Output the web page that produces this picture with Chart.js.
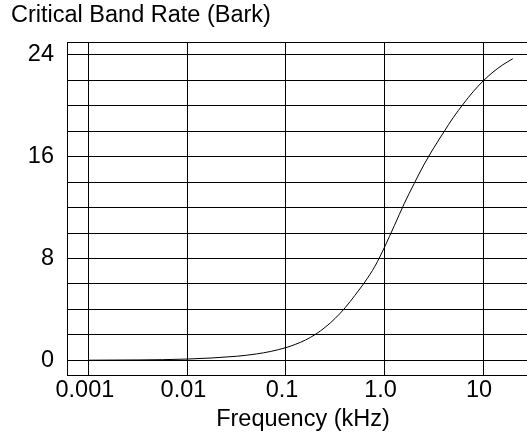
<!DOCTYPE html>
<html>
<head>
<meta charset="utf-8">
<script src="https://cdn.jsdelivr.net/npm/chart.js@4/dist/chart.umd.min.js"></script>
<style>
  html, body { margin: 0; padding: 0; background: #fff; }
  .frame { width: 527px; height: 440px; overflow: hidden; }
  .frame canvas { display: block; }
</style>
</head>
<body>
<div class="frame"><canvas id="barkChart" width="539" height="440"></canvas></div>
<script>
// values
const frequencyKHz = [0.001, 0.00316, 0.01, 0.0316, 0.05, 0.07, 0.1, 0.126, 0.158, 0.2, 0.25, 0.316, 0.4, 0.5, 0.63, 0.8, 1.0, 1.26, 1.58, 2.0, 2.5, 3.16, 4.0, 5.0, 6.3, 7.9, 10, 12.6, 15.8, 20];
const barkRate = [0.01, 0.03, 0.1, 0.32, 0.5, 0.7, 1.0, 1.27, 1.6, 2.05, 2.6, 3.3, 4.15, 5.1, 6.15, 7.4, 8.9, 10.6, 12.3, 13.9, 15.35, 16.7, 17.95, 19.1, 20.15, 21.1, 21.95, 22.65, 23.22, 23.7];

const xTickValues = [0.001, 0.01, 0.1, 1, 10];
const xTickLabels = ["0.001", "0.01", "0.1", "1.0", "10"];
const yGridValues = [0, 2, 4, 6, 8, 10, 12, 14, 16, 18, 20, 22, 24];
const yLabelValues = [0, 8, 16, 24];

const textFont = { family: '"Liberation Sans", Arial, sans-serif', size: 23.5, weight: "normal" };

Chart.defaults.color = "#000";
Chart.defaults.font = textFont;

const frameTop = {
  id: "frameTop",
  afterDraw(chart) {
    const { ctx, chartArea } = chart;
    const y = Math.round(chartArea.top) + 0.5;
    ctx.save();
    ctx.strokeStyle = "#000";
    ctx.lineWidth = 1;
    ctx.beginPath();
    ctx.moveTo(chartArea.left, y);
    ctx.lineTo(chartArea.right, y);
    ctx.stroke();
    ctx.restore();
  }
};

new Chart(document.getElementById("barkChart"), {
  type: "line",
  data: {
    datasets: [
      {
        data: frequencyKHz.map((f, i) => ({ x: f, y: barkRate[i] })),
        borderColor: "#000",
        borderWidth: 1,
        pointRadius: 0,
        cubicInterpolationMode: "monotone",
        fill: false
      }
    ]
  },
  plugins: [frameTop],
  options: {
    responsive: false,
    animation: false,
    layout: { padding: { left: 11, right: 0, top: 0, bottom: 6 } },
    plugins: {
      legend: { display: false },
      tooltip: { enabled: false },
      title: {
        display: true,
        text: "Critical Band Rate (Bark)",
        align: "start",
        color: "#000",
        font: textFont,
        padding: { top: 1, bottom: 13 }
      }
    },
    scales: {
      x: {
        type: "logarithmic",
        min: 0.000608,
        max: 36.9,
        afterBuildTicks(scale) {
          scale.ticks = xTickValues.map((value) => ({ value }));
        },
        ticks: {
          autoSkip: false,
          maxRotation: 0,
          padding: 1,
          labelOffset: -4,
          callback(value) {
            const i = xTickValues.indexOf(value);
            return i >= 0 ? xTickLabels[i] : "";
          }
        },
        grid: { color: "#000", drawTicks: false },
        border: { color: "#000" },
        title: {
          display: true,
          text: "Frequency (kHz)",
          font: textFont,
          padding: { top: 0, bottom: 0 }
        }
      },
      y: {
        min: -1.2,
        max: 25,
        afterBuildTicks(scale) {
          scale.ticks = yGridValues.map((value) => ({ value }));
        },
        afterFit(scale) {
          scale.width = 56;
        },
        ticks: {
          autoSkip: false,
          padding: 13,
          callback(value) {
            return yLabelValues.includes(value) ? String(value) : "";
          }
        },
        grid: { color: "#000", drawTicks: false },
        border: { color: "#000" }
      }
    }
  }
});
</script>
</body>
</html>
